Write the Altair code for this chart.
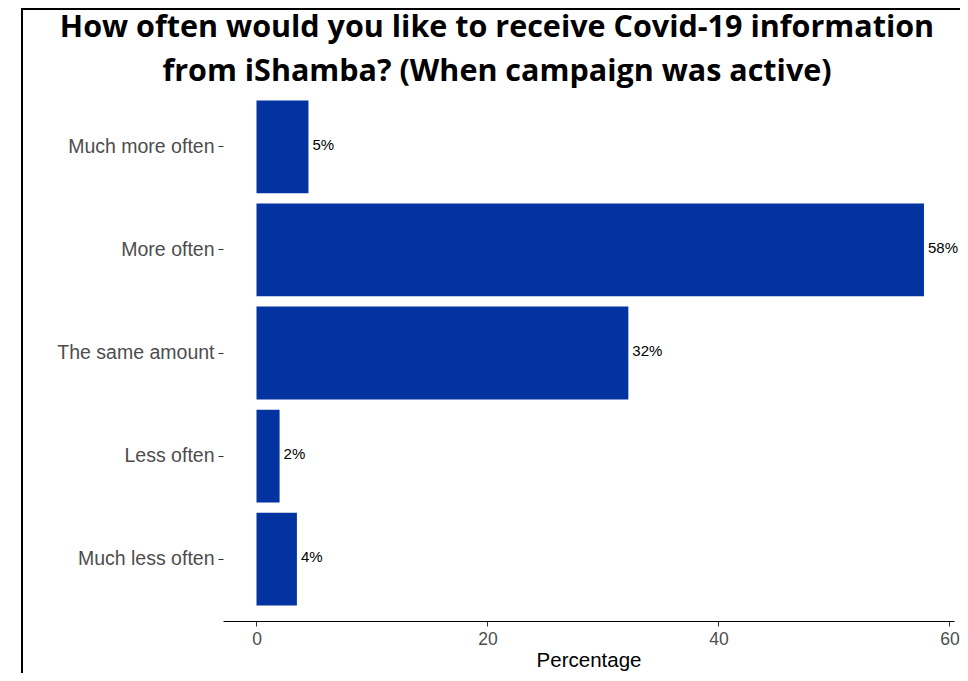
import altair as alt
import pandas as pd

categories = ["Much more often", "More often", "The same amount", "Less often", "Much less often"]
values = [4.5, 57.8, 32.2, 2.0, 3.5]
labels = ["5%", "58%", "32%", "2%", "4%"]
title_lines = ["How often would you like to receive Covid-19 information",
               "from iShamba? (When campaign was active)"]

df = pd.DataFrame({"cat": categories, "pct": values, "label": labels})
one = pd.DataFrame({"k": [0]})

BLUE = "#0233A0"

y_enc = alt.Y("cat:N", sort=categories, title=None,
              scale=alt.Scale(paddingInner=0.1, paddingOuter=0.15),
              axis=alt.Axis(domain=False, ticks=True, tickSize=5, tickColor="#333333",
                            labelFont="Liberation Sans", labelFontSize=19.5, labelColor="#4D4D4D",
                            labelPadding=4))
x_enc = alt.X("pct:Q", title="Percentage",
              scale=alt.Scale(domain=[-2.9, 60.4], nice=False, zero=False),
              axis=alt.Axis(values=[0, 20, 40, 60], grid=False, domainColor="#000000",
                            domainWidth=1.2, tickColor="#333333", tickSize=5,
                            labelFont="Liberation Sans", labelFontSize=17.5, labelColor="#4D4D4D",
                            labelPadding=4, titleFont="Liberation Sans", titleFontSize=20.5,
                            titleFontWeight="normal", titleColor="#000000", titlePadding=3))

bars = alt.Chart(df).mark_bar(color=BLUE).encode(
    x=x_enc, x2=alt.datum(0), y=y_enc
)

text = alt.Chart(df).mark_text(align="left", baseline="middle", dx=4, dy=-2,
                               font="Liberation Sans", fontSize=15, color="#000000").encode(
    x="pct:Q", y=alt.Y("cat:N", sort=categories), text="label:N"
)

frame_left = alt.Chart(one).mark_rule(color="#000000", strokeWidth=2).encode(
    x=alt.value(-201), y=alt.value(-77), y2=alt.value(590)
)
frame_top = alt.Chart(one).mark_rule(color="#000000", strokeWidth=2).encode(
    x=alt.value(-201), x2=alt.value(740), y=alt.value(-76)
)

t1 = alt.Chart(one).mark_text(align="center", baseline="middle", font="Open Sans", fontSize=30.5,
                              fontWeight="bold", color="#000000").encode(
    x=alt.value(274), y=alt.value(-57), text=alt.value(title_lines[0])
)
t2 = alt.Chart(one).mark_text(align="center", baseline="middle", font="Open Sans", fontSize=30.5,
                              fontWeight="bold", color="#000000").encode(
    x=alt.value(274), y=alt.value(-13), text=alt.value(title_lines[1])
)

chart = alt.layer(frame_left, frame_top, bars, text, t1, t2).properties(
    width=731, height=536,
    padding={"left": 215, "top": 77, "right": 6, "bottom": 52},
    autosize=alt.AutoSizeParams(type="none"),
).configure_view(stroke=None).configure_axis(grid=False)

chart.save("out.html", embed_options={"renderer": "svg", "actions": False})
